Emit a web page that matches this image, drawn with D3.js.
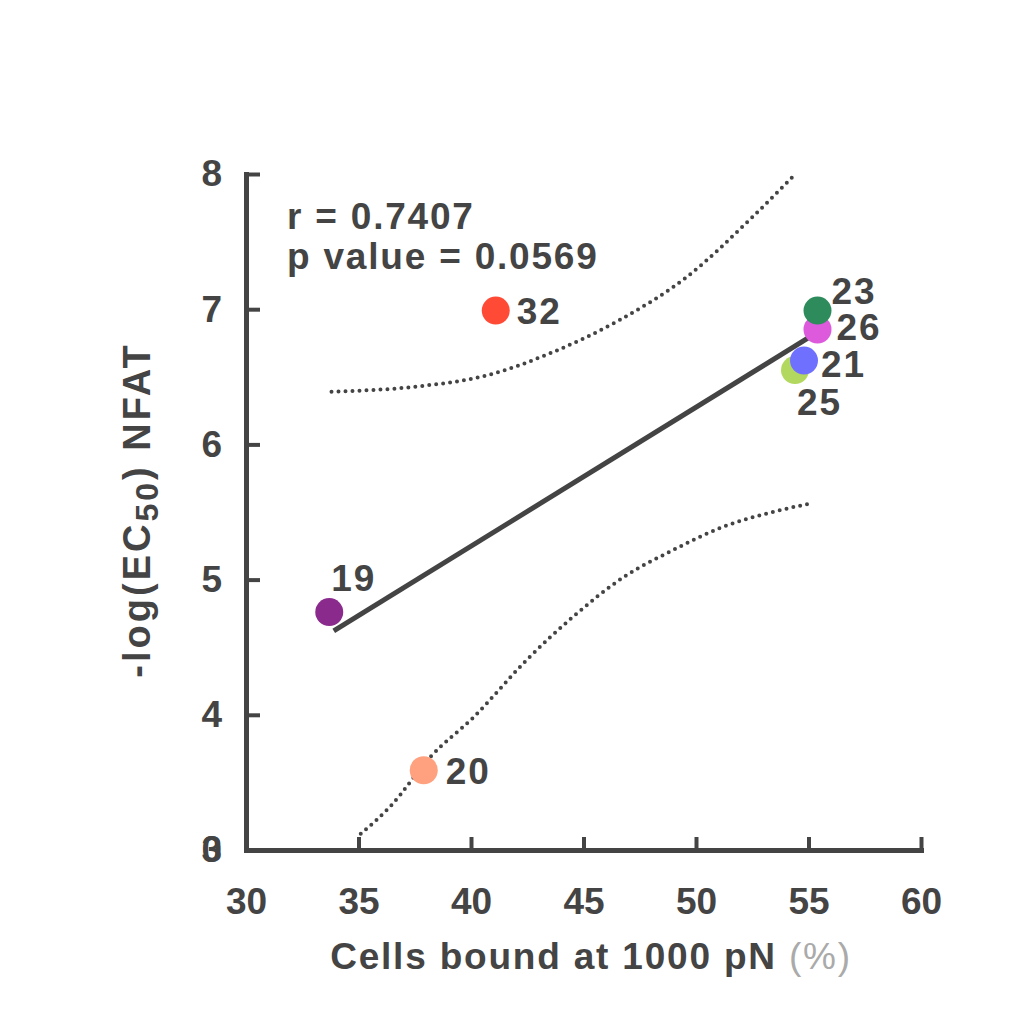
<!DOCTYPE html>
<html>
<head>
<meta charset="utf-8">
<script src="https://cdn.jsdelivr.net/npm/d3@7"></script>
<style>
  body { margin: 0; background: #fff; }
  svg text { font-family: "Liberation Sans", Arial, sans-serif; font-weight: bold; fill: #444; }
</style>
</head>
<body>
<div id="chart"></div>
<script>
// compound data: cells bound (%) vs -log(EC50)
var compounds = ["19", "20", "32", "23", "26", "21", "25"];
var cellsBound = [33.7, 37.9, 41.1, 55.4, 55.4, 54.8, 54.4];
var logEC50 = [4.76, 3.59, 6.99, 6.99, 6.85, 6.62, 6.55];
var pointColors = ["#8a2a8c", "#ffa07f", "#ff4a36", "#2e8b5c", "#dd5add", "#7070ff", "#b3d860"];

// fit line and 95% band
var fitX = [33.9, 55.4];
var fitY = [4.62, 6.83];
var upperX = [33.8, 37.7, 40.7, 43.6, 46.6, 49.6, 52.5, 54.3];
var upperY = [6.39, 6.43, 6.51, 6.68, 6.92, 7.24, 7.68, 7.98];
var lowerX = [35.1, 36.4, 38.2, 40.1, 42.5, 44.5, 46.8, 49.0, 51.2, 53.4, 55.0];
var lowerY = [3.12, 3.32, 3.69, 3.98, 4.41, 4.72, 5.02, 5.22, 5.39, 5.50, 5.56];

var xTicks = [30, 35, 40, 45, 50, 55, 60];
var yTicks = [3, 4, 5, 6, 7, 8];

var width = 1024, height = 1024;
var margin = { top: 174, right: 103, bottom: 174, left: 246 };
var ink = "#444";

var svg = d3.select("#chart").append("svg")
    .attr("width", width)
    .attr("height", height);

var x = d3.scaleLinear().domain([30, 60]).range([margin.left, width - margin.right]);
var y = d3.scaleLinear().domain([3, 8]).range([height - margin.bottom, margin.top]);

// axes
var gx = svg.append("g")
    .attr("transform", "translate(0," + y(3) + ")")
    .call(d3.axisBottom(x).tickValues(xTicks).tickSize(-13).tickSizeOuter(0).tickPadding(38));
var gy = svg.append("g")
    .attr("transform", "translate(" + x(30) + ",0)")
    .call(d3.axisLeft(y).tickValues(yTicks).tickFormat(d3.format("d"))
        .tickSize(-14).tickSizeOuter(0).tickPadding(24));

[gx, gy].forEach(function(g) {
    g.select(".domain").attr("stroke", ink).attr("stroke-width", 5).attr("stroke-linecap", "square");
    g.selectAll(".tick line").attr("stroke", ink).attr("stroke-width", 4);
    g.selectAll(".tick text").attr("font-size", 37).attr("font-family", null).attr("fill", ink);
});
gx.selectAll(".tick").filter(function(d) { return d === 30; }).select("line").remove();
gy.selectAll(".tick").filter(function(d) { return d === 3; }).select("line").remove();
// the overlapped "0" at the origin
gy.selectAll(".tick").filter(function(d) { return d === 3; })
    .append("text")
    .attr("x", -24).attr("dy", "0.32em")
    .attr("text-anchor", "end")
    .attr("font-size", 37)
    .text("0");

// confidence band
var line = d3.line().curve(d3.curveMonotoneX)
    .x(function(d) { return x(d[0]); })
    .y(function(d) { return y(d[1]); });

[[upperX, upperY], [lowerX, lowerY]].forEach(function(b) {
    svg.append("path")
        .datum(d3.zip(b[0], b[1]))
        .attr("d", line)
        .attr("fill", "none")
        .attr("stroke", ink)
        .attr("stroke-width", 4)
        .attr("stroke-linecap", "round")
        .attr("stroke-dasharray", "0,7");
});

// regression line
svg.append("path")
    .datum(d3.zip(fitX, fitY))
    .attr("d", d3.line().x(function(d) { return x(d[0]); }).y(function(d) { return y(d[1]); }))
    .attr("stroke", ink)
    .attr("stroke-width", 5)
    .attr("fill", "none");

// points
var pts = compounds.map(function(c, i) {
    return { name: c, x: cellsBound[i], y: logEC50[i], color: pointColors[i] };
});
var drawOrder = ["25", "21", "19", "20", "32", "26", "23"];
svg.append("g").selectAll("circle")
    .data(drawOrder.map(function(n) { return pts[compounds.indexOf(n)]; }))
    .enter().append("circle")
    .attr("cx", function(d) { return x(d.x); })
    .attr("cy", function(d) { return y(d.y); })
    .attr("r", 14)
    .attr("fill", function(d) { return d.color; });

// point labels (offsets in px)
var labelOffset = {
    "19": [2, -21], "20": [22, 14], "32": [21, 13], "23": [14, -7],
    "26": [19, 11], "21": [17, 16], "25": [2, 45]
};
svg.append("g").selectAll("text")
    .data(pts)
    .enter().append("text")
    .attr("x", function(d) { return x(d.x) + labelOffset[d.name][0]; })
    .attr("y", function(d) { return y(d.y) + labelOffset[d.name][1]; })
    .attr("font-size", 37)
    .attr("letter-spacing", 2)
    .text(function(d) { return d.name; });

// stats
var stats = svg.append("text").attr("x", 287).attr("font-size", 37).attr("letter-spacing", 1.8);
stats.append("tspan").attr("x", 287).attr("y", 229).text("r = 0.7407");
stats.append("tspan").attr("x", 287).attr("y", 269).text("p value = 0.0569");

// axis titles
var xt = svg.append("text")
    .attr("x", 591).attr("y", 969)
    .attr("text-anchor", "middle")
    .attr("font-size", 37)
    .attr("letter-spacing", 1.8)
    .text("Cells bound at 1000 pN ");
xt.append("tspan").attr("fill", "#aaa").attr("font-weight", "normal").text("(%)");

var yt = svg.append("text")
    .attr("transform", "translate(150,510) rotate(-90)")
    .attr("text-anchor", "middle")
    .attr("font-size", 38)
    .attr("letter-spacing", 3);
yt.append("tspan").text("-log(EC");
yt.append("tspan").attr("baseline-shift", "-25%").attr("font-size", 32).text("50");
yt.append("tspan").text(")  NFAT");
</script>
</body>
</html>
